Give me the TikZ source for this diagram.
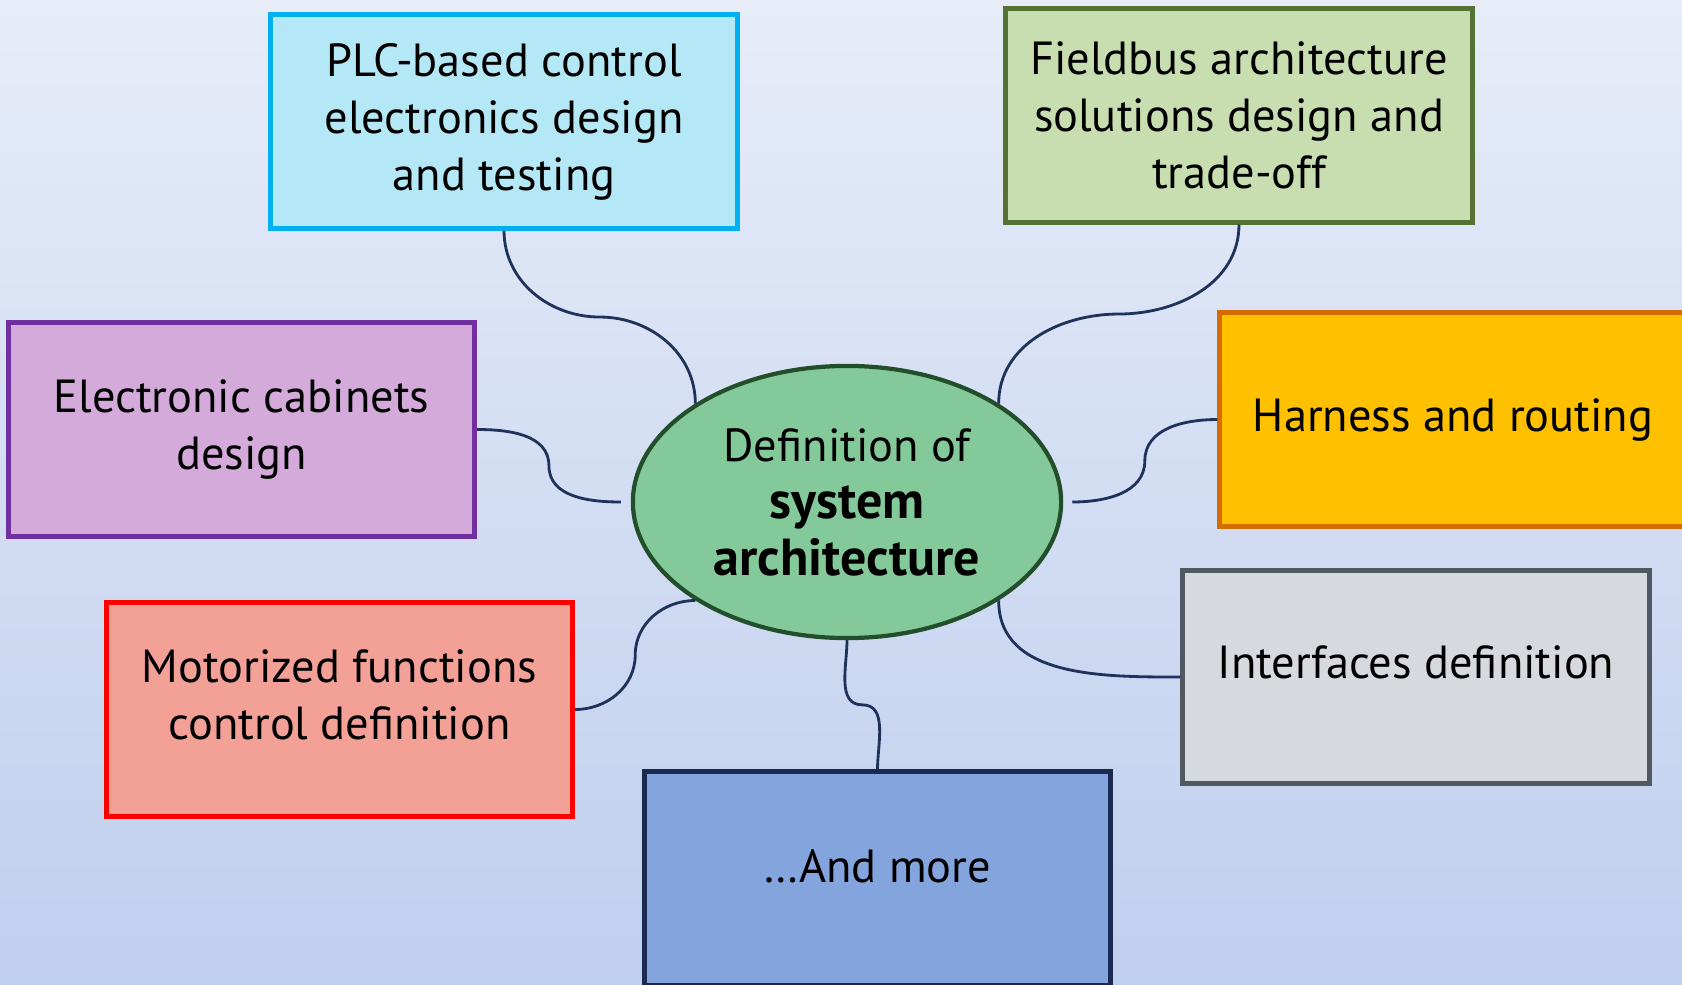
\documentclass[tikz,border=0pt]{standalone}
\usepackage{fontspec}
\setmainfont{PT Sans}
\usetikzlibrary{shapes.geometric,calc}

\definecolor{bgtop}{RGB}{231,236,248}
\definecolor{bgbot}{RGB}{191,207,238}
\definecolor{linkc}{RGB}{31,50,90}
\definecolor{plcfill}{RGB}{181,232,246}
\definecolor{plcdraw}{RGB}{0,176,240}
\definecolor{fbfill}{RGB}{200,222,176}
\definecolor{fbdraw}{RGB}{84,114,52}
\definecolor{cabfill}{RGB}{211,170,218}
\definecolor{cabdraw}{RGB}{112,48,160}
\definecolor{harfill}{RGB}{255,192,0}
\definecolor{hardraw}{RGB}{212,108,0}
\definecolor{motfill}{RGB}{243,161,151}
\definecolor{motdraw}{RGB}{255,0,0}
\definecolor{iffill}{RGB}{214,218,223}
\definecolor{ifdraw}{RGB}{80,88,98}
\definecolor{morefill}{RGB}{132,164,222}
\definecolor{moredraw}{RGB}{26,42,80}
\definecolor{deffill}{RGB}{132,201,154}
\definecolor{defdraw}{RGB}{34,78,44}

\begin{document}
\begin{tikzpicture}[x=0.01cm, y=0.01cm,
	box/.style={draw, line width=1.4pt, minimum width=4.66cm, minimum height=2.13cm, align=center, inner sep=2pt, font=\fontsize{13.2}{16.2}\selectfont},
	link/.style={draw=linkc, line width=0.8pt}]

	\path[use as bounding box, clip] (0,0) rectangle (1682,-985);
	\shade[top color=bgtop, bottom color=bgbot] (0,0) rectangle (1682,-985);

	\node[box, fill=plcfill, draw=plcdraw] (plc) at (504,-121.5) {PLC-based control\\electronics design\\and testing};
	\node[box, fill=fbfill, draw=fbdraw] (fieldbus) at (1239,-115.5) {Fieldbus architecture\\solutions design and\\trade-off};
	\node[box, fill=cabfill, draw=cabdraw] (cabinets) at (241.5,-429.5) {Electronic cabinets\\design};
	\node[box, fill=harfill, draw=hardraw] (harness) at (1453,-419.5) {Harness and routing};
	\node[box, fill=motfill, draw=motdraw, text depth=0.3cm] (motor) at (339.5,-709.5) {Motorized functions\\control definition};
	\node[box, fill=iffill, draw=ifdraw, text depth=0.3cm] (iface) at (1416,-677) {Interfaces definition};
	\node[box, fill=morefill, draw=moredraw, text depth=0.25cm] (more) at (877.5,-878.5) {\dots And more};

	\node[ellipse, draw=defdraw, fill=deffill, line width=1.2pt, minimum width=4.28cm, minimum height=2.72cm, inner sep=0pt, align=center, font=\fontsize{13.2}{16.2}\selectfont] (def) at (847,-502) {Definition of\\{\fontsize{14.8}{16.2}\selectfont\textbf{system}}\\{\fontsize{14.8}{16.2}\selectfont\textbf{architecture}}};

	\draw[link] (plc.south) to[out=-90,in=180] ($(plc.south)!.5!(def.147)$) to[out=0,in=90] (def.147);
	\draw[link] (fieldbus.south) to[out=-90,in=0] ($(fieldbus.south)!.5!(def.33)$) to[out=180,in=90] (def.33);
	\draw[link] (cabinets.east) to[out=0,in=90] ($(cabinets.east)!.5!([xshift=-0.1cm]def.west)$) to[out=-90,in=180] ([xshift=-0.1cm]def.west);
	\draw[link] ([xshift=0.09cm]def.east) to[out=0,in=-90] ($([xshift=0.09cm]def.east)!.5!(harness.west)$) to[out=90,in=180] (harness.west);
	\draw[link] (motor.east) to[out=0,in=-90] ($(motor.east)!.5!(def.213)$) to[out=90,in=180] (def.213);
	\draw[link] (def.south) to[out=-90,in=180] ($(def.south)!.5!(more.north)$) to[out=0,in=90] (more.north);
	\draw[link] (def.327) to[out=-90,in=180] (iface.west);
\end{tikzpicture}
\end{document}
